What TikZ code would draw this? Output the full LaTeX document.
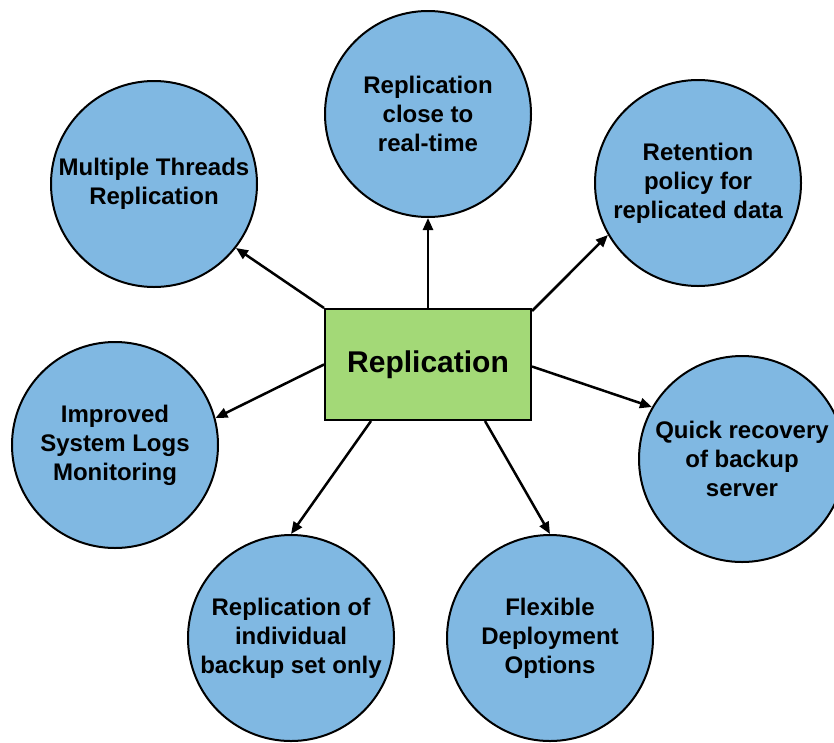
\documentclass[tikz,border=0pt]{standalone}
\usepackage{fontspec}
\setmainfont{Liberation Sans}
\usetikzlibrary{arrows.meta,calc}
\definecolor{bubble}{HTML}{80B8E2}
\definecolor{hub}{HTML}{A3D977}
\begin{document}
\begin{tikzpicture}[x=1pt,y=-1pt,
  bubble/.style={circle,draw=black,line width=2pt,fill=bubble,minimum size=206pt,inner sep=0pt,align=center,
    font=\fontsize{24}{29}\selectfont\bfseries},
  hubbox/.style={rectangle,draw=black,line width=2pt,fill=hub,minimum width=206pt,minimum height=111pt,inner sep=0pt,
    font=\fontsize{30}{36}\selectfont\bfseries},
  link/.style={line width=2.5pt,-{Triangle[length=12pt,width=10pt]}}]
\useasboundingbox (0,0) rectangle (834,742);
\node[hubbox] (hub) at (428,364.5) {Replication};
\node[bubble] (top) at (428,114) {Replication\\close to\\real-time};
\node[bubble] (mt) at (154,184) {Multiple Threads\\Replication};
\node[bubble] (ret) at (698,183) {Retention\\policy for\\replicated data};
\node[bubble] (imp) at (115,445) {Improved\\System Logs\\Monitoring};
\node[bubble] (quick) at (742,459) {Quick recovery\\of backup\\server};
\node[bubble] (ind) at (291,638) {Replication of\\individual\\backup set only};
\node[bubble] (flex) at (550,638) {Flexible\\Deployment\\Options};
\coordinate (sl) at ([xshift=-57pt]hub.south);
\coordinate (sr) at ([xshift=57pt]hub.south);
\draw[link] (hub.north) -- (top.south);
\draw[link] (hub.north west) -- (mt.322);
\draw[link] ([yshift=-3pt]hub.north east) -- (ret.210);
\draw[link] (hub.west) -- (imp.15);
\draw[link] ([yshift=-2pt]hub.east) -- (quick.150);
\draw[link] (sl) -- (ind.north);
\draw[link] (sr) -- (flex.north);
\end{tikzpicture}
\end{document}
